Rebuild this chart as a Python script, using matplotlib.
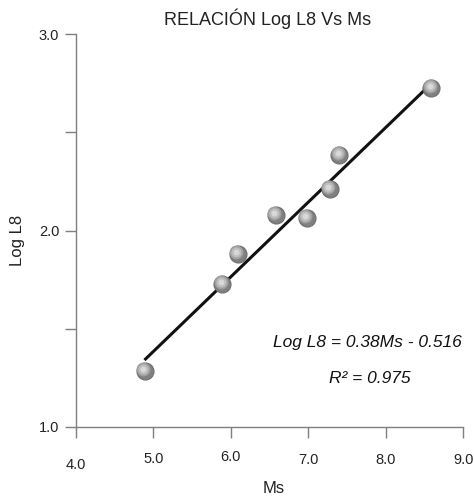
import matplotlib
matplotlib.use("Agg")
import matplotlib.pyplot as plt
import matplotlib.transforms as mtransforms
import numpy as np

plt.rcParams["font.family"] = ["Liberation Sans", "DejaVu Sans"]

# datos
ms = [4.89, 5.89, 6.09, 6.58, 6.98, 7.28, 7.40, 8.59]
log_l8 = [1.285, 1.728, 1.880, 2.079, 2.064, 2.211, 2.384, 2.725]
pendiente = 0.38
intercepto = -0.516
x_ticks = [4.0, 5.0, 6.0, 7.0, 8.0, 9.0]
y_ticks = [1.0, 2.0, 3.0]
# desplazamiento vertical de cada etiqueta del eje x (en puntos)
x_label_shift = [-4, 0, 1.5, -1, -1, -0.5]

gris = "#7f7f7f"

fig = plt.figure(figsize=(4.74, 4.98), dpi=100)
ax = fig.add_axes([0.160, 0.1426, 0.817, 0.789])

# linea de tendencia
xl = np.array([4.9, 8.6])
ax.plot(xl, pendiente * xl + intercepto, color="#111111", lw=2.2, zorder=2)

# puntos tipo esfera (brillo desplazado arriba a la izquierda)
brillo = ax.transData + mtransforms.ScaledTranslation(-1.2 / 72, 1.2 / 72, fig.dpi_scale_trans)
ax.scatter(ms, log_l8, s=150, color="#808080", edgecolors="#6e6e6e", linewidths=0.8, zorder=3)
ax.scatter(ms, log_l8, s=100, color="#a0a0a0", linewidths=0, zorder=4, transform=brillo)
ax.scatter(ms, log_l8, s=55, color="#bdbdbd", linewidths=0, zorder=5, transform=brillo)
ax.scatter(ms, log_l8, s=18, color="#d8d8d8", linewidths=0, zorder=6, transform=brillo)

ax.set_xlim(4.0, 9.0)
ax.set_ylim(1.0, 3.0)
ax.set_xticks(x_ticks)
ax.set_xticklabels([f"{v:.1f}" for v in x_ticks])
ax.set_yticks(y_ticks)
ax.set_yticklabels([f"{v:.1f}" for v in y_ticks])
ax.set_yticks([1.5, 2.5], minor=True)

for s in ["top", "right"]:
    ax.spines[s].set_visible(False)
for s in ["left", "bottom"]:
    ax.spines[s].set_color(gris)
    ax.spines[s].set_linewidth(1.0)

ax.tick_params(axis="both", which="both", color=gris, length=8, width=1.0, direction="out", labelsize=10.5, labelcolor="#222222")
ax.tick_params(axis="x", pad=10)
ax.tick_params(axis="y", pad=4)

for lab, dy in zip(ax.get_xticklabels(), x_label_shift):
    lab.set_transform(lab.get_transform() + mtransforms.ScaledTranslation(0, dy / 72, fig.dpi_scale_trans))

fig.text(0.578, 0.020, "Ms", ha="center", va="center", fontsize=12, color="#222222")
fig.text(0.036, 0.518, "Log L8", ha="center", va="center", rotation=90, fontsize=12, color="#222222")
fig.text(0.565, 0.963, "RELACIÓN Log L8 Vs Ms", ha="center", va="center", fontsize=13, color="#222222")

ax.text(7.77, 1.43, "Log L8 = 0.38Ms - 0.516", style="italic", fontsize=12.5, ha="center", va="center", color="#111111")
ax.text(7.79, 1.245, "R² = 0.975", style="italic", fontsize=12.5, ha="center", va="center", color="#111111")

fig.savefig("out.png", dpi=100)
